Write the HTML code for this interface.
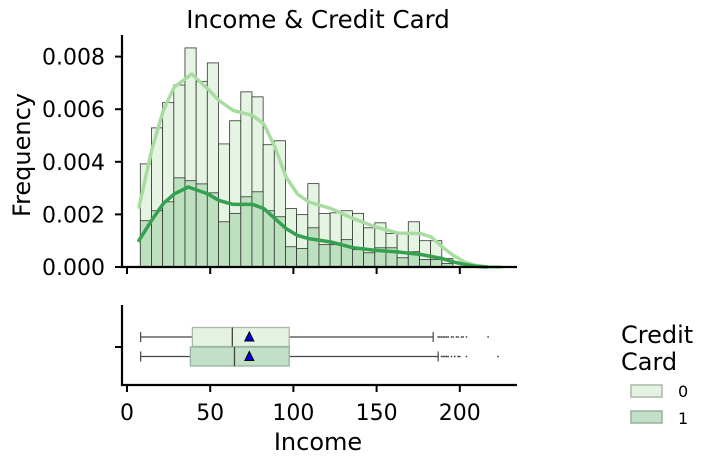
<!DOCTYPE html>
<html><head><meta charset="utf-8">
<style>
html,body{margin:0;padding:0;background:#fff;}
svg{display:block;font-family:"DejaVu Sans","Liberation Sans",sans-serif;}
</style></head>
<body>
<svg id="chart" width="713" height="465" viewBox="0 0 713 465" xmlns="http://www.w3.org/2000/svg">
  <text x="318" y="28" text-anchor="middle" font-size="24.5" fill="#000">Income &amp; Credit Card</text>
  <text transform="translate(30,155) rotate(-90)" text-anchor="middle" font-size="24" fill="#000">Frequency</text>
  <text x="318" y="450" text-anchor="middle" font-size="24" fill="#000">Income</text>
  <g id="hist"></g>
  <g id="box"></g>
  <g>
    <text x="621" y="343" font-size="24">Credit</text>
    <text x="621" y="370" font-size="24">Card</text>
    <rect x="631" y="385" width="31" height="12" fill="#e5f2e2" stroke="#aab8a8" stroke-width="1.5"/>
    <text x="678" y="397" font-size="16">0</text>
    <rect x="631" y="411" width="31" height="12" fill="#c2dfc8" stroke="#98b09e" stroke-width="1.5"/>
    <text x="678" y="424" font-size="16">1</text>
  </g>
</svg>
<script>
const binStart = 8, binWidth = 6.71;
const hist0 = [0.00392,0.00529,0.00625,0.00692,0.00833,0.00706,0.00776,0.00468,0.00556,0.00666,0.00647,0.00465,0.00480,0.00222,0.00199,0.00317,0.00203,0.00206,0.00214,0.00204,0.00149,0.00168,0.00127,0.00127,0.00172,0.00100,0.00100,0.00032];
const hist1 = [0.00176,0.00214,0.00248,0.00339,0.00328,0.00316,0.00282,0.00172,0.00204,0.00267,0.00286,0.00214,0.00191,0.00077,0.00070,0.00149,0.00085,0.00085,0.00104,0.00066,0.00054,0.00073,0.00073,0.00035,0.00058,0.00028,0.00028,0.00013];
const kde0X = [7.2,14.8,21.8,28.4,38.9,48.5,55.3,63.9,75.5,82.3,88.9,95.6,102.4,109.2,122.6,136,149.4,162.9,176.3,182.9,189.5,196.1,202.9,209.5,216.1,224.2];
const kde0Y = [0.00228,0.00443,0.00595,0.00684,0.00734,0.00677,0.00633,0.00595,0.00576,0.00544,0.00456,0.00342,0.00278,0.00247,0.00222,0.00184,0.00152,0.00129,0.00127,0.00114,0.00076,0.00044,0.00019,0.00006,0.00001,0];
const kde1X = [7.2,14.8,21.8,28.4,36.9,48.5,55.3,63.9,75.5,82.3,88.9,95.6,102.4,109.2,122.6,136,149.4,162.9,176.3,182.9,189.5,196.1,202.9,209.5,216.1];
const kde1Y = [0.00101,0.00177,0.00241,0.00278,0.00304,0.00278,0.00253,0.00238,0.00238,0.00222,0.00184,0.00146,0.00120,0.00108,0.00095,0.00073,0.00063,0.00057,0.00048,0.00040,0.00032,0.00019,0.00010,0.00003,0];
const xTicks = [0,50,100,150,200];
const yTicks = [0,0.002,0.004,0.006,0.008];
const yTickLabels = ["0.000","0.002","0.004","0.006","0.008"];
// box stats: [whiskerLo, q1, median, q3, whiskerHi, mean]
const box0 = [8.2,39.3,63.3,97.5,184,73.5];
const box1 = [8.2,38.1,64.6,97.5,187,73.5];
const outliers0 = [187,188,189,190,191,192,193,195,196,198,199,201,202,204,217];
const outliers1 = [189,190,191,192,193,195,197,199,200,204,223];

const NS = "http://www.w3.org/2000/svg";
const xS = v => 127 + v * 1.664;
const yS = v => 267 - v * 26300;
function mk(parent, tag, attrs){const e=document.createElementNS(NS,tag);for(const k in attrs)e.setAttribute(k,attrs[k]);parent.appendChild(e);return e;}
const H = document.getElementById('hist'), B = document.getElementById('box');

function bars(arr, fill, nm){
  arr.forEach((v,i)=>{
    const x0=xS(binStart+i*binWidth), x1=xS(binStart+(i+1)*binWidth);
    const r=mk(H,'rect',{x:x0,y:yS(v),width:x1-x0,height:yS(0)-yS(v),fill:fill,stroke:'#333','stroke-width':0.8});
    
    
  });
}
bars(hist0,'#e6f4e3','bar-card0');
bars(hist1,'#bde1bf','bar-card1');
function line(xs,ys,col,nm){
  const d=xs.map((x,i)=>(i?'L':'M')+xS(x).toFixed(1)+','+yS(ys[i]).toFixed(1)).join(' ');
  const p=mk(H,'path',{d:d,fill:'none',stroke:col,'stroke-width':3.5,'stroke-linejoin':'round','stroke-linecap':'round'});
  
  
}
line(kde0X,kde0Y,'#a8dca0','kde-card0');
line(kde1X,kde1Y,'#34a050','kde-card1');

mk(H,'line',{x1:122,y1:35,x2:122,y2:268,stroke:'#000','stroke-width':2.2});
mk(H,'line',{x1:121,y1:267,x2:517,y2:267,stroke:'#000','stroke-width':2.2});
yTicks.forEach((t,i)=>{
  mk(H,'line',{x1:115,y1:yS(t),x2:122,y2:yS(t),stroke:'#000','stroke-width':2});
  const tx=mk(H,'text',{x:105,y:yS(t)+8,'text-anchor':'end','font-size':22});
  tx.textContent=yTickLabels[i];
  
  
});
xTicks.forEach(t=>{ mk(H,'line',{x1:xS(t),y1:267,x2:xS(t),y2:274,stroke:'#000','stroke-width':2}); });

mk(B,'line',{x1:122,y1:305,x2:122,y2:386,stroke:'#000','stroke-width':2.2});
mk(B,'line',{x1:121,y1:385,x2:517,y2:385,stroke:'#000','stroke-width':2.2});
mk(B,'line',{x1:115,y1:347,x2:122,y2:347,stroke:'#000','stroke-width':2});
xTicks.forEach(t=>{
  mk(B,'line',{x1:xS(t),y1:385,x2:xS(t),y2:392,stroke:'#000','stroke-width':2});
  const tx=mk(B,'text',{x:xS(t),y:420,'text-anchor':'middle','font-size':22});
  tx.textContent=t;
  
  
});
function drawBox(s,outs,yc,fill,stroke,nm){
  const g=mk(B,'g',{});
  
  
  const h=19, c='#444';
  mk(g,'line',{x1:xS(s[0]),y1:yc,x2:xS(s[1]),y2:yc,stroke:c,'stroke-width':1.2});
  mk(g,'line',{x1:xS(s[3]),y1:yc,x2:xS(s[4]),y2:yc,stroke:c,'stroke-width':1.2});
  mk(g,'line',{x1:xS(s[0]),y1:yc-5,x2:xS(s[0]),y2:yc+5,stroke:c,'stroke-width':1.2});
  mk(g,'line',{x1:xS(s[4]),y1:yc-5,x2:xS(s[4]),y2:yc+5,stroke:c,'stroke-width':1.2});
  mk(g,'rect',{x:xS(s[1]),y:yc-h/2,width:xS(s[3])-xS(s[1]),height:h,fill:fill,stroke:stroke,'stroke-width':1.3});
  mk(g,'line',{x1:xS(s[2]),y1:yc-h/2,x2:xS(s[2]),y2:yc+h/2,stroke:c,'stroke-width':1.3});
  const mx=xS(s[5]);
  mk(g,'path',{d:`M${mx},${yc-5} L${mx+4.5},${yc+4} L${mx-4.5},${yc+4} Z`,fill:'#0000e0',stroke:'#000','stroke-width':1});
  outs.forEach(o=>{ mk(g,'circle',{cx:xS(o),cy:yc,r:0.9,fill:'#444'}); });
}
drawBox(box0,outliers0,337,'#e5f2e2','#aab8a8','box-card0');
drawBox(box1,outliers1,356.5,'#c2dfc8','#98b09e','box-card1');
</script>
</body></html>
